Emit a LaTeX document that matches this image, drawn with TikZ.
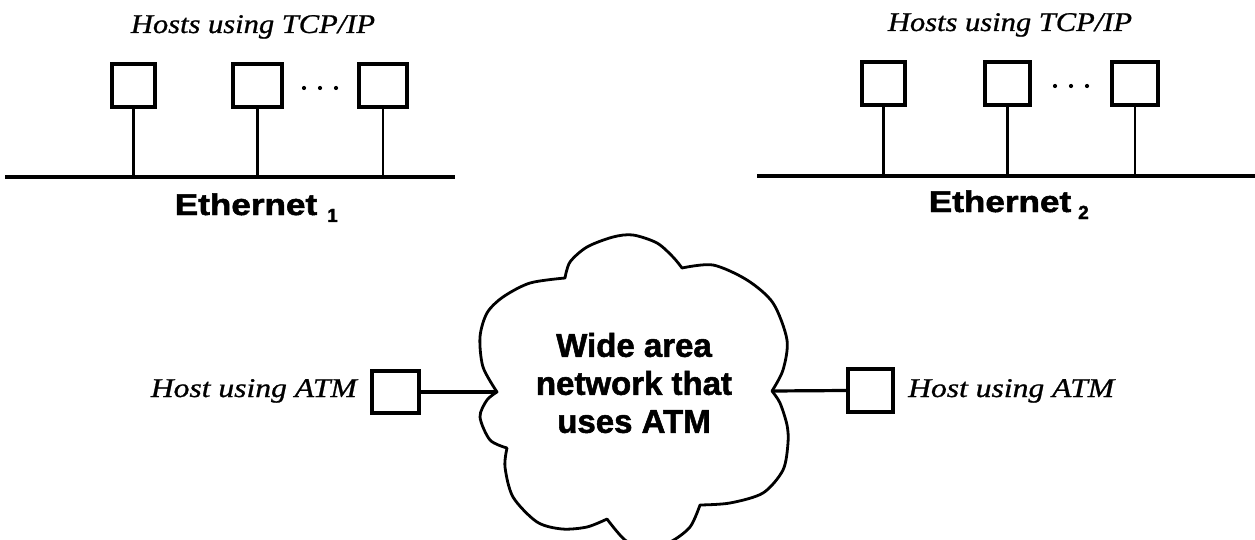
\documentclass[tikz,border=0pt]{standalone}
\usepackage{fontspec}
\usepackage{graphicx}
\setmainfont{Liberation Serif}
\setsansfont{Liberation Sans}
\newfontfamily\heavysans{Liberation Sans Bold}[FakeBold=1.6]
\newfontfamily\heavyital{Liberation Serif Italic}[FakeBold=0.8]
\newcommand{\wx}[2]{\scalebox{#1}[1]{#2}}
\begin{document}
\begin{tikzpicture}[x=1pt,y=-1pt,
  hostbox/.style={draw, line width=3.2pt, minimum width=45pt, minimum height=43pt, inner sep=0pt},
  wire/.style={line width=3.2pt},
  thinwire/.style={line width=2.2pt},
  ital/.style={font=\fontsize{27}{27}\selectfont\heavyital, inner sep=0pt},
  ethlbl/.style={font=\fontsize{30}{30}\selectfont\heavysans, inner sep=0pt},
  sublbl/.style={font=\fontsize{19}{19}\selectfont\heavysans, inner sep=0pt},
  wanlbl/.style={font=\fontsize{33}{38}\selectfont\heavysans, align=center, inner sep=0pt},
  cloudline/.style={line width=2.8pt, line join=round}]
\useasboundingbox (0,0) rectangle (1255,540);

% ---------- left Ethernet ----------
\node[ital, anchor=base] (t1) at (253,33) {\wx{1.13}{Hosts using TCP/IP}};
\node[hostbox, minimum width=43pt] (a1) at (133.5,85.5) {};
\node[hostbox, minimum width=49pt] (a2) at (257.5,85.5) {};
\node[hostbox, minimum width=48pt] (a3) at (383,85.5) {};
\foreach \x in {304,320,336} \fill (\x,88) circle (2.1);
\coordinate (e1L) at (5,177);
\coordinate (e1R) at (455,177);
\draw[wire] (e1L) -- (e1R);
\draw[wire] (a1.south) -- (a1.south |- e1L);
\draw[wire] (a2.south) -- (a2.south |- e1L);
\draw[thinwire] (a3.south) -- (a3.south |- e1L);
\node[ethlbl, anchor=base] (eth1) at (246,215) {\wx{1.17}{Ethernet}};
\node[sublbl, anchor=base west] (sub1) at (327,222) {1};

% ---------- right Ethernet ----------
\node[ital, anchor=base] (t2) at (1010,31) {\wx{1.13}{Hosts using TCP/IP}};
\node[hostbox, minimum width=43pt] (b1) at (883.5,83.5) {};
\node[hostbox, minimum width=45pt] (b2) at (1007.5,83.5) {};
\node[hostbox, minimum width=46pt] (b3) at (1135,83.5) {};
\foreach \x in {1055,1071,1087} \fill (\x,86) circle (2.1);
\coordinate (e2L) at (757,176);
\coordinate (e2R) at (1255,176);
\draw[wire] (e2L) -- (e2R);
\draw[wire] (b1.south) -- (b1.south |- e2L);
\draw[wire] (b2.south) -- (b2.south |- e2L);
\draw[thinwire] (b3.south) -- (b3.south |- e2L);
\node[ethlbl, anchor=base] (eth2) at (1000,212) {\wx{1.17}{Ethernet}};
\node[sublbl, anchor=base west] (sub2) at (1078,219) {2};

% ---------- cloud ----------
\draw[cloudline]
  plot[smooth] coordinates {(497,392) (483,367) (480,337) (487,313) (503,297) (530,283) (565,278)}
  -- plot[smooth] coordinates {(565,278) (570,262) (587,247) (613,237) (633,235) (657,243) (673,257) (682,268)}
  -- plot[smooth] coordinates {(682,268) (713,265) (747,280) (773,303) (787,340) (783,370) (772,391)}
  -- plot[smooth] coordinates {(772,391) (780,403) (787,425) (788,443) (783,470) (763,493) (730,503) (700,505)}
  -- plot[smooth] coordinates {(700,505) (690,527) (670,542) (645,548) (625,540) (607,519)}
  -- plot[smooth] coordinates {(607,519) (587,527) (562,529) (537,522) (513,497) (505,467) (507,448)}
  -- plot[smooth] coordinates {(507,448) (490,440) (480,417) (487,400) (497,392)}
  -- cycle;
\coordinate (wanL) at (497,392);
\coordinate (wanR) at (772,391);
\node[wanlbl] (wan) at (634,383) {Wide area\\network that\\uses ATM};

% ---------- ATM hosts ----------
\node[hostbox, minimum width=47pt, minimum height=42pt] (hl) at (395.5,392) {};
\node[hostbox, minimum width=45pt, minimum height=43pt] (hr) at (870.5,390.5) {};
\draw[wire] (hl.east) -- (wanL);
\draw[wire] (wanR) -- (hr.west);
\node[ital, anchor=base east] (hlt) at (357,397) {\wx{1.17}{Host using ATM}};
\node[ital, anchor=base west] (hrt) at (908,397) {\wx{1.17}{Host using ATM}};
\end{tikzpicture}
\end{document}
